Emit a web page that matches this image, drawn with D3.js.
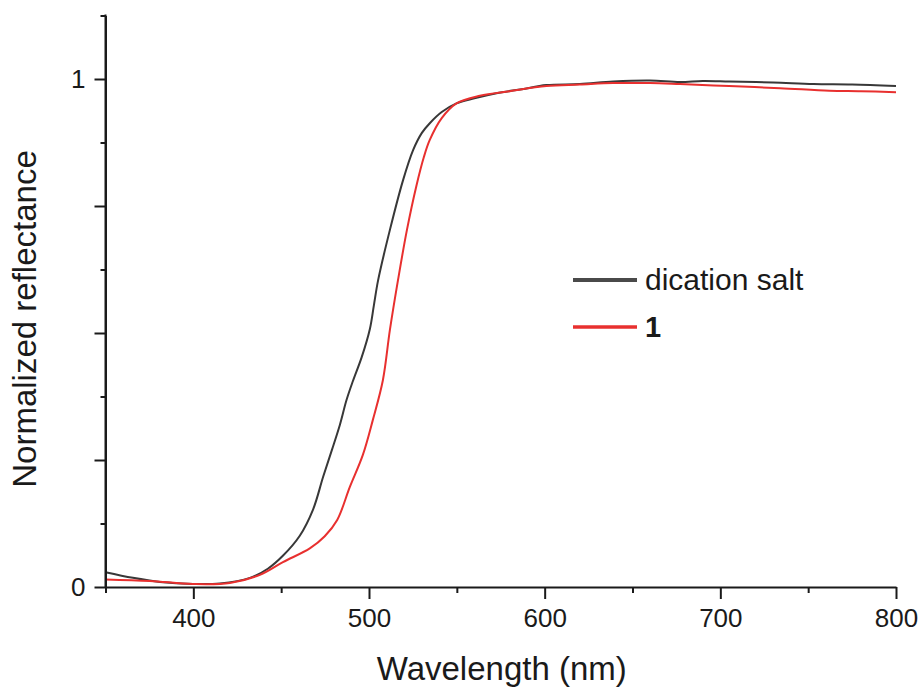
<!DOCTYPE html>
<html>
<head>
<meta charset="utf-8">
<script src="https://cdn.jsdelivr.net/npm/d3@7"></script>
<style>
  html, body { margin: 0; padding: 0; background: #fff; }
  svg { display: block; }
  text { font-family: "Liberation Sans", Arial, Helvetica, sans-serif; fill: #1a1a1a; }
</style>
</head>
<body>
<svg id="chart" width="924" height="691"></svg>
<script>
// ---- data ----
const seriesNames = ["dication salt", "1"];
const seriesColors = ["#383838", "#e8302f"];

const dicationWavelength = [350, 365.6, 381, 399.8, 415.1, 432.2, 442.4, 451.1, 460.6, 468.2, 473.9, 478.9, 483.4, 487.2, 490.8, 495.8, 500.5, 502.8, 505.2, 511.9, 519.4, 525.1, 530.1, 534.6, 541.4, 549.8, 560, 572.6, 587, 601, 620, 639, 660, 677, 690, 705, 730, 753, 775, 800];
const dicationReflectance = [0.029, 0.018, 0.010, 0.006, 0.007, 0.018, 0.036, 0.062, 0.101, 0.153, 0.217, 0.270, 0.319, 0.368, 0.405, 0.452, 0.508, 0.555, 0.604, 0.703, 0.801, 0.860, 0.894, 0.913, 0.935, 0.952, 0.962, 0.972, 0.980, 0.988, 0.990, 0.995, 0.997, 0.994, 0.996, 0.995, 0.993, 0.990, 0.989, 0.986];

const oneWavelength = [350, 375.3, 399.8, 420.8, 437.9, 451, 466.3, 474.8, 481.9, 489.1, 496.5, 502.2, 507.9, 511.9, 516.5, 521.6, 527, 531.2, 534.6, 541.4, 549.8, 563.1, 580.1, 601, 620, 639, 660, 677, 705, 734, 762, 780, 800];
const oneReflectance = [0.015, 0.012, 0.006, 0.008, 0.024, 0.049, 0.076, 0.100, 0.132, 0.197, 0.260, 0.329, 0.407, 0.506, 0.604, 0.703, 0.790, 0.846, 0.880, 0.923, 0.952, 0.967, 0.976, 0.986, 0.989, 0.992, 0.992, 0.990, 0.986, 0.982, 0.977, 0.976, 0.974];

const xTickValues = [400, 500, 600, 700, 800];
const xMinorTickValues = [350, 450, 550, 650, 750];
const yLabeledTicks = [0, 1];
const yMajorTicks = [0, 0.25, 0.5, 0.75, 1];
const yMinorTicks = [0.125, 0.375, 0.625, 0.875, 1.125];

const xTitle = "Wavelength (nm)";
const yTitle = "Normalized reflectance";

// ---- layout ----
const svg = d3.select("#chart");
const plotLeft = 105.5, plotRight = 896, plotTop = 15.5, plotBottom = 587;

const x = d3.scaleLinear().domain([350, 800]).range([plotLeft, plotRight]);
const y = d3.scaleLinear().domain([0, 1.125]).range([plotBottom, plotTop]);

// curves
const line = d3.line().x(d => x(d[0])).y(d => y(d[1])).curve(d3.curveCatmullRom.alpha(0.5));
const series = [
  d3.zip(dicationWavelength, dicationReflectance),
  d3.zip(oneWavelength, oneReflectance)
];
series.forEach((s, i) => {
  svg.append("path").datum(s)
    .attr("d", line)
    .attr("fill", "none")
    .attr("stroke", seriesColors[i])
    .attr("stroke-width", 2)
    .attr("stroke-linejoin", "round");
});

// x axis
const axisStyle = g => {
  g.select(".domain").attr("stroke", "#1a1a1a").attr("stroke-width", 2);
  g.selectAll(".tick line").attr("stroke", "#1a1a1a").attr("stroke-width", 2);
};
const gx = svg.append("g").attr("transform", `translate(0,${plotBottom})`)
  .call(d3.axisBottom(x).tickValues(xTickValues).tickSize(12).tickSizeOuter(0).tickPadding(10).tickFormat(d3.format("d")));
axisStyle(gx);
gx.selectAll(".tick text").attr("font-size", 26).attr("fill", "#1a1a1a")
  .style("font-family", '"Liberation Sans", Arial, sans-serif');
svg.append("g").attr("transform", `translate(0,${plotBottom})`)
  .call(d3.axisBottom(x).tickValues(xMinorTickValues).tickSize(6).tickSizeOuter(0).tickFormat(""))
  .call(g => { g.select(".domain").remove(); g.selectAll(".tick line").attr("stroke", "#1a1a1a").attr("stroke-width", 2); });

// y axis
const gy = svg.append("g").attr("transform", `translate(${plotLeft},0)`)
  .call(d3.axisLeft(y).tickValues(yMajorTicks).tickSize(11).tickSizeOuter(0).tickPadding(9)
    .tickFormat(d => yLabeledTicks.includes(d) ? d3.format("d")(d) : ""));
axisStyle(gy);
gy.selectAll(".tick text").attr("font-size", 26).attr("fill", "#1a1a1a")
  .style("font-family", '"Liberation Sans", Arial, sans-serif');
svg.append("g").attr("transform", `translate(${plotLeft},0)`)
  .call(d3.axisLeft(y).tickValues(yMinorTicks).tickSize(5).tickSizeOuter(0).tickFormat(""))
  .call(g => { g.select(".domain").remove(); g.selectAll(".tick line").attr("stroke", "#1a1a1a").attr("stroke-width", 2); });
svg.append("line").attr("x1", plotLeft).attr("x2", plotLeft).attr("y1", y(1.125) - 1).attr("y2", plotBottom)
  .attr("stroke", "#1a1a1a").attr("stroke-width", 2);

// titles
svg.append("text").attr("x", (plotLeft + plotRight) / 2 + 1).attr("y", 680)
  .attr("text-anchor", "middle").attr("font-size", 33).text(xTitle);
svg.append("text").attr("transform", `translate(36,319) rotate(-90)`)
  .attr("text-anchor", "middle").attr("font-size", 33).text(yTitle);

// legend
const legendY = [280, 327];
const legend = svg.append("g");
seriesNames.forEach((name, i) => {
  legend.append("line").attr("x1", 573).attr("x2", 637)
    .attr("y1", legendY[i]).attr("y2", legendY[i])
    .attr("stroke", i === 0 ? "#4a4a4a" : seriesColors[i]).attr("stroke-width", i === 0 ? 4 : 3.5);
  legend.append("text").attr("x", 645).attr("y", legendY[i] + 9.5)
    .attr("font-size", i === 0 ? 30 : 29).attr("font-weight", i === 1 ? "bold" : "normal")
    .text(name);
});
</script>
</body>
</html>
